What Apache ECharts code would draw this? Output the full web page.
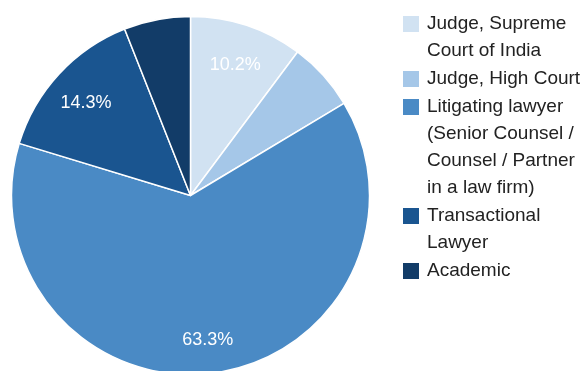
<!DOCTYPE html>
<html>
<head>
<meta charset="utf-8">
<style>
  html, body { margin: 0; padding: 0; background: #ffffff; }
  #chart { width: 586px; height: 371px; }
</style>
<script src="https://cdn.jsdelivr.net/npm/echarts@6/dist/echarts.min.js"></script>
</head>
<body>
<div id="chart"></div>
<script>
// Current occupation of respondents (share, %)
const categories = [
  'Judge, Supreme\nCourt of India',
  'Judge, High Court',
  'Litigating lawyer\n(Senior Counsel /\nCounsel / Partner\nin a law firm)',
  'Transactional\nLawyer',
  'Academic'
];
const shares = [10.2, 6.2, 63.3, 14.3, 6.0];
const palette = ['#d1e2f2', '#a5c7e8', '#4a8ac5', '#1a5590', '#123c68'];

// slices this small carry no percentage label
const labelThreshold = 10;

const FONT = 'Arial, "Liberation Sans", sans-serif';
const CENTER = [190.5, 195.5];
const OUTER = 179;
const LINE_H = 27;
const ENTRY_GAP = 1;
const FIRST_SWATCH_MID = 24;

const sliceData = categories.map((name, i) => ({
  name,
  value: shares[i],
  itemStyle: { color: palette[i] }
}));

const labelData = categories.map((name, i) => ({
  name,
  value: shares[i],
  label: { show: shares[i] >= labelThreshold }
}));

// One legend block per entry so that the swatch lines up with the first
// line of a wrapped name. The legend text is centred on its swatch, so a
// wrapped name gets empty lines in front of it to push it down.
const legends = [];
let swatchMid = FIRST_SWATCH_MID;
categories.forEach(name => {
  const lines = name.split('\n').length;
  legends.push({
    orient: 'vertical',
    left: 401,
    top: swatchMid - (2 * lines - 1) * LINE_H / 2,
    padding: 0,
    itemWidth: 18,
    itemHeight: 18,
    icon: 'rect',
    selectedMode: false,
    data: [name],
    formatter: n => '\n'.repeat(lines - 1) + n,
    textStyle: {
      color: '#222222',
      fontFamily: FONT,
      fontSize: 19,
      lineHeight: LINE_H,
      padding: [0, 0, 0, 2]
    }
  });
  swatchMid += lines * LINE_H + ENTRY_GAP;
});

const chart = echarts.init(document.getElementById('chart'), null, { renderer: 'canvas' });
chart.setOption({
  backgroundColor: '#ffffff',
  animation: false,
  legend: legends,
  series: [
    {
      type: 'pie',
      center: CENTER,
      radius: [0, OUTER],
      startAngle: 90,
      clockwise: true,
      silent: true,
      label: { show: false },
      labelLine: { show: false },
      itemStyle: { borderColor: '#ffffff', borderWidth: 1.5 },
      data: sliceData
    },
    {
      // transparent ring that only carries the percentage labels
      type: 'pie',
      center: CENTER,
      radius: [99, OUTER],
      startAngle: 90,
      clockwise: true,
      silent: true,
      legendHoverLink: false,
      itemStyle: { color: 'rgba(0,0,0,0)', borderWidth: 0 },
      labelLine: { show: false },
      label: {
        position: 'inside',
        color: '#ffffff',
        fontFamily: FONT,
        fontSize: 18,
        offset: [0, 4],
        formatter: p => p.value.toFixed(1) + '%'
      },
      data: labelData
    }
  ]
});
</script>
</body>
</html>
